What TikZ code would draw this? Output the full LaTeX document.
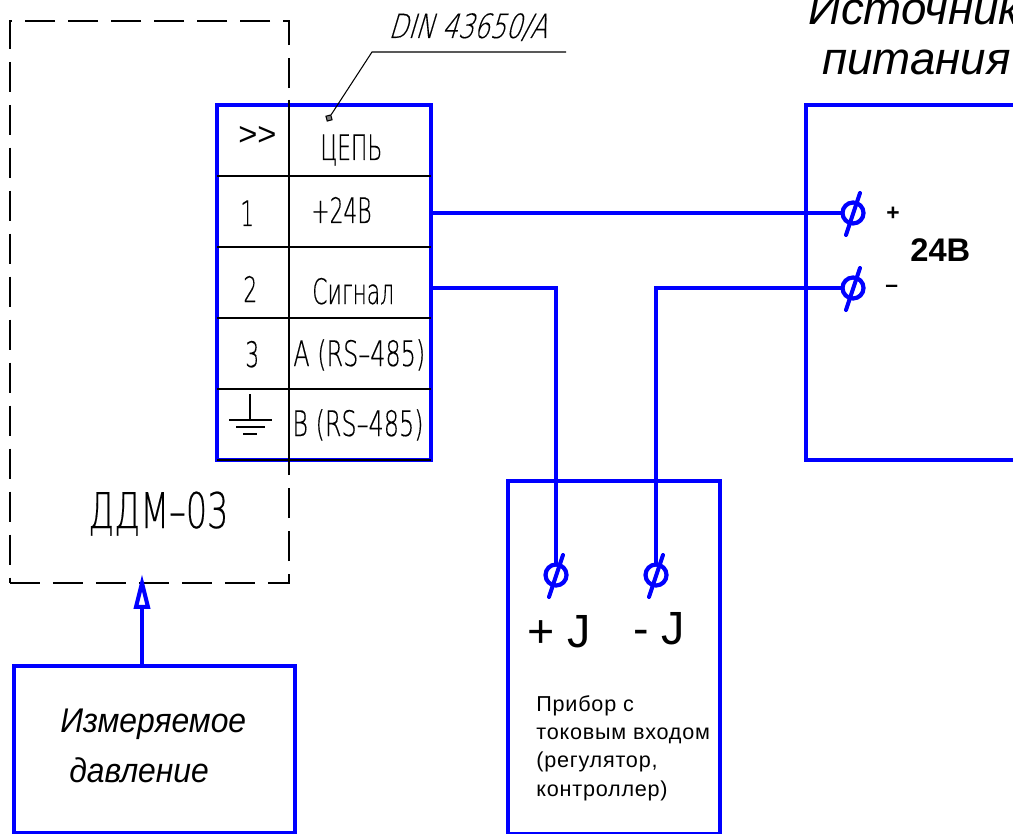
\documentclass[tikz,border=0pt]{standalone}
\usepackage{fontspec}
\setmainfont{Liberation Sans}
\newfontfamily\gostfont[FakeStretch=0.62,FakeBold=0.3]{DejaVu Sans ExtraLight}
\newfontfamily\gostwide[FakeStretch=0.68,FakeBold=0.3]{DejaVu Sans ExtraLight}
\newfontfamily\gostslant[FakeStretch=0.75,FakeSlant=0.3,FakeBold=0.2]{DejaVu Sans ExtraLight}
\newfontfamily\spacedfont[LetterSpace=3.6]{Liberation Sans}
\newfontfamily\narrowfont[FakeStretch=0.93]{Liberation Sans}
\usetikzlibrary{arrows.meta}

\tikzset{
    blockbox/.style={draw=blue, line width=2.4pt, inner sep=0pt, outer sep=0pt, anchor=north west},
    wireline/.style={draw=blue, line width=2.3pt},
    thinline/.style={draw=black, line width=0.6pt},
    terminal/.style={circle, draw=blue, line width=2.4pt, minimum size=0.42cm, inner sep=0pt, outer sep=0pt},
    gosttext/.style={anchor=base west, inner sep=0pt, font=\gostfont\fontsize{20}{24}\selectfont},
    titletext/.style={anchor=base west, inner sep=0pt, font=\itshape\fontsize{26}{30}\selectfont},
    plaintext/.style={anchor=base west, inner sep=0pt, font=\fontsize{26.5}{30}\selectfont},
}

\begin{document}
\begin{tikzpicture}[x=0.02cm, y=-0.02cm]

\path[use as bounding box, clip] (0,0) rectangle (1013,834);

% Boxes
\node[blockbox, minimum width=4.28cm, minimum height=7.1cm] (ddmtable) at (217,105) {};
\node[blockbox, minimum width=6cm, minimum height=7.1cm] (power) at (806,105) {};
\node[blockbox, minimum width=4.24cm, minimum height=7.06cm] (device) at (508,481) {};
\node[blockbox, minimum width=5.62cm, minimum height=3.34cm] (measure) at (14,666) {};

% Dashed outline of the sensor
\draw[thinline, dash pattern=on 0.6cm off 0.26cm] (10,583) -- (289,583) -- (289,21) -- (10,21) -- cycle;
\draw[thinline] (289,100) -- (289,472);

% Table rows
\foreach \y in {176,247,318,389,460} {
    \draw[thinline] (217,\y) -- (431,\y);
}

% Terminals
\foreach \name/\x/\y in {srcplus/853/213, srcminus/853/288, devplus/556/575, devminus/656/575} {
    \node[terminal] (\name) at (\x,\y) {};
    \draw[wireline, line cap=round] ([shift={(-7,22)}]\name.center) -- ([shift={(7,-20)}]\name.center);
}

% Draws wires
\draw[wireline] (srcplus) -- (srcplus -| ddmtable.east);
\draw[wireline] (srcminus -| ddmtable.east) -| (devplus);
\draw[wireline] (srcminus) -| (devminus);

% Pressure arrow
\coordinate (pressin) at (142,574);
\draw[wireline, -{Triangle[open, length=0.7cm, width=0.32cm]}] (measure.north -| pressin) -- (pressin);

% Leader of the connector
\node[draw=black, line width=0.6pt, fill=gray, rotate=15, minimum size=0.1cm, inner sep=0pt] (dinmark) at (329,118) {};
\coordinate (dinknee) at (372,52);
\coordinate (dinend) at (566,52);
\draw[thinline] (dinmark) -- (dinknee) -- (dinend);
\node[gosttext, font=\gostslant\fontsize{19}{24}\selectfont] (dinlabel) at (388,38) {DIN 43650/A};

% Ground mark
\coordinate (gndtop) at (250,394);
\coordinate (gndmid) at (250,420);
\draw[thinline] (gndtop) -- (gndmid);
\draw[thinline] (229,420) -- (272,420);
\draw[thinline] (236,427) -- (265,427);
\draw[thinline] (243,434) -- (257,434);

% Table texts
\node[gosttext, font=\fontsize{18.6}{20}\selectfont] (arrows) at (238,146) {>{}>};
\node[gosttext] (chain) at (320,160) {ЦЕПЬ};
\node[gosttext] (num1) at (240,226) {1};
\node[gosttext] (row1) at (311,223) {+24В};
\node[gosttext] (num2) at (243,302) {2};
\node[gosttext] (row2) at (312,304) {Сигнал};
\node[gosttext] (num3) at (245,367) {3};
\node[gosttext, font=\gostwide\fontsize{20}{24}\selectfont] (row3) at (293,366) {A (RS–485)};
\node[gosttext, font=\gostwide\fontsize{20}{24}\selectfont] (row4) at (292,436) {B (RS–485)};
\node[gosttext, font=\gostwide\fontsize{28}{30}\selectfont] (ddmname) at (88,528) {ДДМ–03};

% Power supply texts
\node[titletext] (srcname) at (808,25) {Источник};
\node[titletext] (srcname2) at (822,75) {питания};
\node[plaintext, font=\bfseries\fontsize{13}{14}\selectfont] (pluslabel) at (886,221) {+};
\node[plaintext, font=\bfseries\fontsize{13}{14}\selectfont] (minuslabel) at (885,293) {–};
\node[plaintext, font=\bfseries\fontsize{18.6}{22}\selectfont] (volts) at (910,262) {24В};

% Device texts
\node[plaintext] (devplustext) at (527,647) {+ J};
\node[plaintext] (devminustext) at (633,644) {- J};
\node[anchor=base west, inner sep=0pt, align=left, font=\spacedfont\fontsize{12.3}{16}\selectfont] (devtext) at (536,796) {Прибор с\\токовым входом\\(регулятор,\\контроллер)};

% Measured value
\node[titletext, font=\narrowfont\itshape\fontsize{19.5}{22}\selectfont] (measname) at (60,732) {Измеряемое};
\node[titletext, font=\narrowfont\itshape\fontsize{19.5}{22}\selectfont] (measname2) at (69,782) {давление};

\end{tikzpicture}
\end{document}
